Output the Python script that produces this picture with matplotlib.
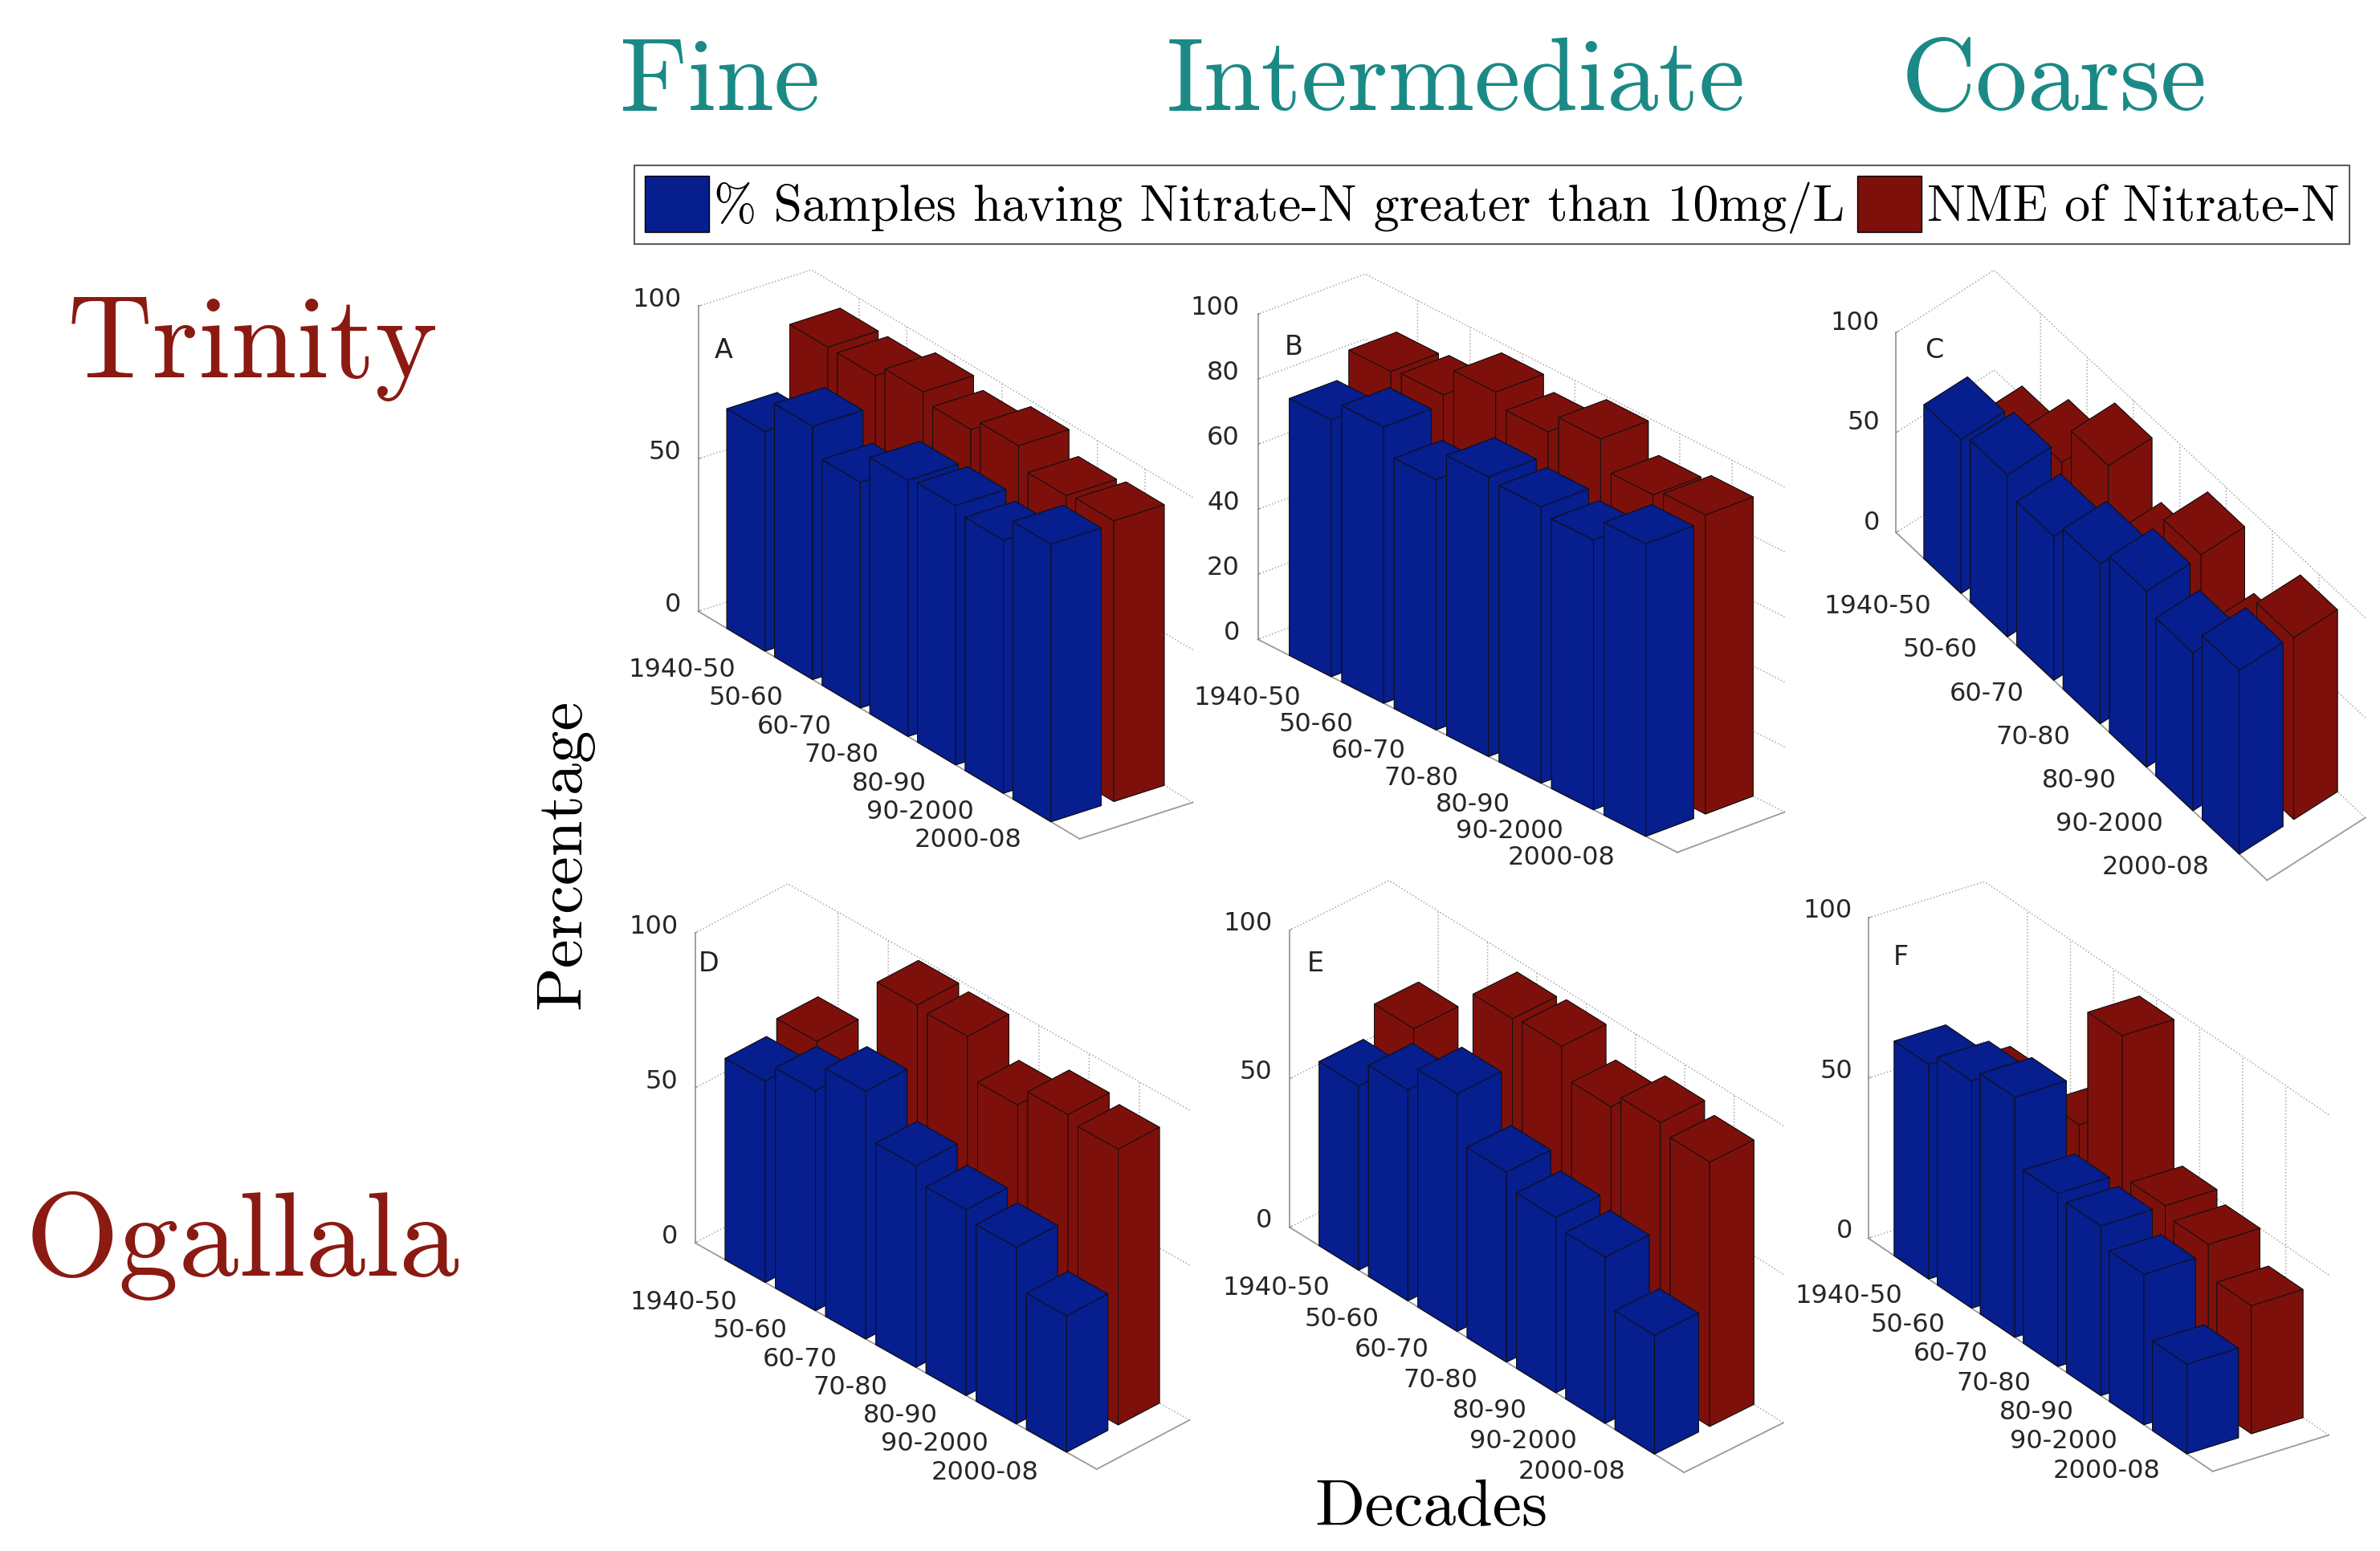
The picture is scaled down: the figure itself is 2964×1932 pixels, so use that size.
# Nitrate-N bar charts, Trinity / Ogallala aquifers, three texture classes
import numpy as np
import matplotlib
matplotlib.use('Agg')
import matplotlib.pyplot as plt
from matplotlib.patches import Patch

plt.rcParams['grid.linestyle'] = ':'
plt.rcParams['grid.color'] = '#a8a8a8'
plt.rcParams['grid.linewidth'] = 1.1

decades = ['1940-50', '50-60', '60-70', '70-80', '80-90', '90-2000', '2000-08']

# blue: % samples having Nitrate-N > 10 mg/L, red: NME of Nitrate-N
pct_A = [72, 83, 74, 84, 85, 83, 91]
nme_A = [93, 93, 97, 94, 98, 91, 92]
pct_B = [79, 85, 77, 86, 85, 83, 90]
nme_B = [87, 88, 97, 93, 99, 90, 92]
pct_C = [77, 81, 72, 80, 88, 79, 92]
nme_C = [55, 70, 90, 62, 89, 60, 91]
pct_D = [65, 71, 80, 65, 60, 57, 44]
nme_D = [69, 55, 99, 98, 85, 91, 89]
pct_E = [62, 71, 80, 64, 59, 56, 40]
nme_E = [72, 55, 96, 97, 87, 92, 89]
pct_F = [67, 71, 75, 54, 53, 47, 28]
nme_F = [54, 45, 60, 97, 53, 50, 40]

legend_labels = ['% Samples having Nitrate-N greater than 10mg/L', 'NME of Nitrate-N']

FIG_W, FIG_H = 2964, 1932
fig = plt.figure(figsize=(FIG_W / 100, FIG_H / 100), dpi=100)

blue = '#061e8e'
red = '#7e100b'
teal = '#1b8a86'
darkred = '#8a1a12'


def fx(x):
    return x / FIG_W


def fy(y):
    return 1 - y / FIG_H


def draw_panel(letter, pct, nme, elev, azim, aspect, zticks, cx, cy, zlen, lxy, xpad=25):
    W = 1000
    cy = cy + 16
    ax = fig.add_axes([fx(cx - W / 2), fy(cy + W / 2), W / FIG_W, W / FIG_H],
                      projection='3d')
    ax.set_facecolor((1, 1, 1, 0))
    ax.set_proj_type('ortho')
    ax.view_init(elev=elev, azim=azim)
    aspect = np.array(aspect, float)
    diag = zlen / np.cos(np.radians(elev)) * np.linalg.norm(aspect) / aspect[2]
    ax.set_box_aspect(aspect, zoom=diag / (1.0301 * W))
    ax.computed_zorder = False

    # one box per bar, painted back to front
    a = np.radians(azim)
    for j, vals, col in [(1, pct, blue), (2, nme, red)]:
        for i, v in enumerate(vals, start=1):
            near = np.cos(a) * i * aspect[0] / 8 + np.sin(a) * j * aspect[1] / 1.8
            ax.bar3d(i - 0.4, j - 0.4, 0, 0.8, 0.8, v, color=col, shade=False,
                     edgecolor='#101010', linewidth=0.7, zorder=10 + 10 * near)

    ax.set_xlim(0, 8)
    ax.set_ylim(0.6, 2.4)
    ax.set_zlim(0, 100)
    ax.set_xticks(np.arange(1, len(pct) + 1))
    ax.set_xticklabels(decades, ha='right', va='center')
    ax.set_yticks([])
    ax.set_zticks(zticks)
    ax.set_zticklabels([str(t) for t in zticks], ha='right', va='center')
    ax.zaxis.set_ticks_position('lower')
    ax.tick_params(labelsize=23, labelcolor='#262626', colors='#888888')
    ax.tick_params(axis='x', pad=xpad)
    ax.tick_params(axis='z', pad=5)

    for axis in (ax.xaxis, ax.yaxis, ax.zaxis):
        axis.set_pane_color((1, 1, 1, 0))
        axis.pane.set_edgecolor('#c0c0c0')
        axis.pane.set_linestyle(':')
        axis.line.set_color('#9a9a9a')
        axis.line.set_linewidth(1.3)
        axis._axinfo['tick'].update({'inward_factor': 0.0, 'outward_factor': 0.25})

    fig.text(fx(lxy[0]), fy(lxy[1]), letter, fontsize=24, color='#222222',
             ha='center', va='center')
    return ax


draw_panel('A', pct_A, nme_A, 26, -36.3, (1, 0.218, 0.527), [0, 50, 100], 1164, 688, 380, (901, 437))
draw_panel('B', pct_B, nme_B, 25.9, -40.7, (1, 0.22, 0.562), [0, 20, 40, 60, 80, 100], 1881, 699, 405, (1611, 433))
draw_panel('C', pct_C, nme_C, 50.6, -39.5, (1, 0.218, 0.54), [0, 50, 100], 2640, 714, 249, (2409, 437), xpad=36)
draw_panel('D', pct_D, nme_D, 33.1, -44.1, (1, 0.224, 0.641), [0, 50, 100], 1160, 1463, 386, (883, 1201))
draw_panel('E', pct_E, nme_E, 33.9, -41.9, (1, 0.226, 0.606), [0, 50, 100], 1900, 1463, 370, (1638, 1201))
draw_panel('F', pct_F, nme_F, 27.4, -34.2, (1, 0.229, 0.589), [0, 50, 100], 2600, 1463, 399, (2367, 1193), xpad=22)

# column / row headings
for txt, x in [('Fine', 897), ('Intermediate', 1813), ('Coarse', 2558)]:
    fig.text(fx(x), fy(137), txt, family='cmr10', fontsize=93, color=teal,
             ha='center', va='baseline')
fig.text(fx(315), fy(470), 'Trinity', family='cmr10', fontsize=106, color=darkred,
         ha='center', va='baseline')
fig.text(fx(302), fy(1589), 'Ogallala', family='cmr10', fontsize=108, color=darkred,
         ha='center', va='baseline')
fig.text(fx(703), fy(1064), 'Percentage', family='cmr10', fontsize=58, rotation=90,
         ha='center', va='center')
fig.text(fx(1782), fy(1900), 'Decades', family='cmr10', fontsize=59,
         ha='center', va='baseline')

handles = [Patch(facecolor=blue, edgecolor='k'), Patch(facecolor=red, edgecolor='k')]
leg = fig.legend(handles, legend_labels, loc='center',
                 bbox_to_anchor=(fx(1858), fy(255)), ncol=2, frameon=True,
                 fancybox=False, edgecolor='#333333',
                 prop={'family': 'cmr10', 'size': 46},
                 handlelength=1.25, handleheight=1.31, handletextpad=0.1,
                 columnspacing=0.25, borderpad=0.2, borderaxespad=0)
leg.get_frame().set_linewidth(1.5)

fig.savefig('out.png', dpi=100)
